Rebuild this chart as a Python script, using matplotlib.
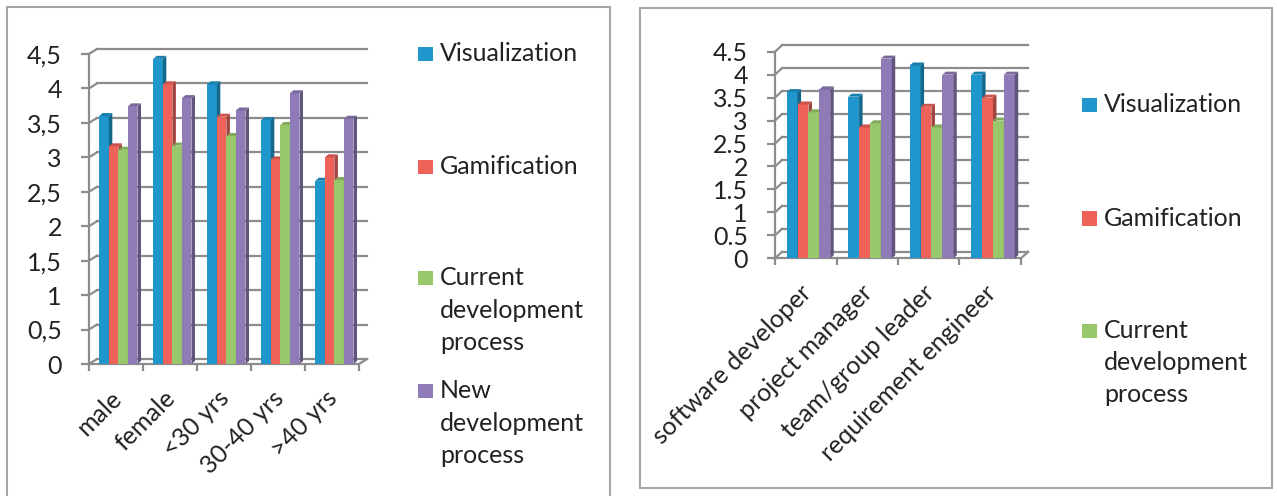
import textwrap

import matplotlib
matplotlib.use("Agg")
import matplotlib.pyplot as plt
from matplotlib.patches import Polygon, Rectangle
from matplotlib.colors import to_rgb

plt.rcParams['font.family'] = ['Lato', 'DejaVu Sans']

# ---- data -------------------------------------------------------------
series_names = ["Visualization", "Gamification",
                "Current development process", "New development process"]
series_colors = ["#1f97cc", "#ef6259", "#98c76c", "#8e7bb8"]

demo_categories = ["male", "female", "<30 yrs", "30-40 yrs", ">40 yrs"]
demo_visualization = [3.60, 4.43, 4.06, 3.54, 2.66]
demo_gamification = [3.16, 4.06, 3.59, 2.97, 3.00]
demo_current = [3.11, 3.17, 3.31, 3.47, 2.67]
demo_new = [3.74, 3.86, 3.68, 3.93, 3.56]

role_categories = ["software developer", "project manager",
                   "team/group leader", "requirement engineer"]
role_visualization = [3.62, 3.52, 4.20, 4.00]
role_gamification = [3.35, 2.85, 3.30, 3.50]
role_current = [3.18, 2.94, 2.85, 3.00]
role_new = [3.68, 4.35, 4.00, 4.00]

y_ticks = [0, 0.5, 1, 1.5, 2, 2.5, 3, 3.5, 4, 4.5]
demo_tick_labels = ["0", "0,5", "1", "1,5", "2", "2,5", "3", "3,5", "4", "4,5"]
role_tick_labels = ["0", "0.5", "1", "1.5", "2", "2.5", "3", "3.5", "4", "4.5"]

# ---- layout helpers ---------------------------------------------------
W, H = 1277, 496
FS = 18
TEXT = "#222222"
GRID = "#8c8c8c"

fig = plt.figure(figsize=(W / 100, H / 100), dpi=100)


def fig_box(x0, x1, ytop, ybot):
    return [x0 / W, 1 - ybot / H, (x1 - x0) / W, (ybot - ytop) / H]


def shade(color, f):
    r, g, b = to_rgb(color)
    return (r * f, g * f, b * f)


def draw_chart(ax, categories, values, tick_labels, wall_px, side_px):
    n = len(categories)
    ax.set_xlim(0, n)
    ax.set_ylim(0, 4.5)
    pos = ax.get_position()
    px_x = pos.width * W / n
    px_y = pos.height * H / 4.5
    gx, gy = wall_px[0] / px_x, wall_px[1] / px_y
    sx, sy = side_px[0] / px_x, side_px[1] / px_y

    # back wall grid with slanted side-wall connectors
    for v in y_ticks:
        ax.plot([0, gx], [v, v + gy], color=GRID, lw=1.6, clip_on=False, zorder=1)
        ax.plot([gx, n + gx], [v + gy, v + gy], color=GRID, lw=1.6,
                clip_on=False, zorder=1)
    ax.plot([n, n + gx], [0, gy], color=GRID, lw=1.6, clip_on=False, zorder=1)

    # pseudo-3D columns
    offset, width = 0.19, 0.177
    z = 3
    for j, vals in enumerate(values):
        color = series_colors[j]
        xs = [i + offset + j * width for i in range(n)]
        ax.bar(xs, vals, width=width, align='edge', color=color,
               linewidth=0, zorder=z)
        for x, v in zip(xs, vals):
            side = Polygon([(x + width, 0), (x + width + sx, sy),
                            (x + width + sx, v + sy), (x + width, v)],
                           closed=True, facecolor=shade(color, 0.68),
                           edgecolor='none', zorder=z + 0.5, clip_on=False)
            top = Polygon([(x, v), (x + sx, v + sy), (x + width + sx, v + sy),
                           (x + width, v)], closed=True,
                          facecolor=shade(color, 0.85), edgecolor='none',
                          zorder=z + 0.5, clip_on=False)
            ax.add_patch(side)
            ax.add_patch(top)
        z += 1

    for s in ("top", "right"):
        ax.spines[s].set_visible(False)
    for s in ("left", "bottom"):
        ax.spines[s].set_color(GRID)
        ax.spines[s].set_linewidth(1.6)
        ax.spines[s].set_zorder(2)
    ax.set_facecolor('none')

    ax.set_yticks(y_ticks)
    ax.set_yticklabels(tick_labels)
    ax.tick_params(axis='y', length=6, width=1.6, color=GRID, pad=13.5,
                   labelsize=FS, labelcolor=TEXT)
    ax.set_xticks(range(n + 1))
    ax.set_xticklabels([])
    ax.tick_params(axis='x', length=5, width=1.6, color=GRID)

    # slanted category names, anchored at the end of their baseline
    for i, cat in enumerate(categories):
        ax.text(i + 0.5 + 7 / px_x, -36 / px_y, cat, rotation=45,
                rotation_mode='anchor', ha='right', va='baseline',
                fontsize=FS, color=TEXT, clip_on=False)


def draw_legend(names, sq_x, text_x, baselines, line_step):
    for j, name in enumerate(names):
        base = baselines[j]
        fig.add_artist(Rectangle((sq_x / W, 1 - base / H), 14.5 / W, 14.5 / H,
                                 transform=fig.transFigure,
                                 facecolor=series_colors[j], edgecolor='none'))
        lines = textwrap.wrap(name, 11, break_long_words=False)
        for k, line in enumerate(lines):
            fig.text(text_x / W, 1 - (base + k * line_step) / H, line,
                     fontsize=FS, color=TEXT, va='baseline', ha='left')


# ---- frames -----------------------------------------------------------
fig.add_artist(Rectangle((7 / W, 1 - 510 / H), 603 / W, 503 / H,
                         transform=fig.transFigure, fill=False,
                         edgecolor='#a6a6a6', lw=1.5))
fig.add_artist(Rectangle((640 / W, 1 - 488 / H), 632 / W, 480 / H,
                         transform=fig.transFigure, fill=False,
                         edgecolor='#a6a6a6', lw=1.5))

# ---- left chart: by gender and age --------------------------------------
ax1 = fig.add_axes(fig_box(89, 359, 54, 364))
draw_chart(ax1, demo_categories,
           [demo_visualization, demo_gamification, demo_current, demo_new],
           demo_tick_labels, wall_px=(8, 5), side_px=(3.5, 3))
draw_legend(series_names, 418, 440, [61, 174, 285, 398], 32.7)

# ---- right chart: by role ------------------------------------------------
ax2 = fig.add_axes(fig_box(775, 1021, 51.7, 258.3))
draw_chart(ax2, role_categories,
           [role_visualization, role_gamification, role_current, role_new],
           role_tick_labels, wall_px=(7, 6.5), side_px=(3.5, 3))
draw_legend(series_names[:3], 1082, 1104, [112, 226, 338], 32.2)

fig.savefig("out.png", dpi=100, facecolor='white')
